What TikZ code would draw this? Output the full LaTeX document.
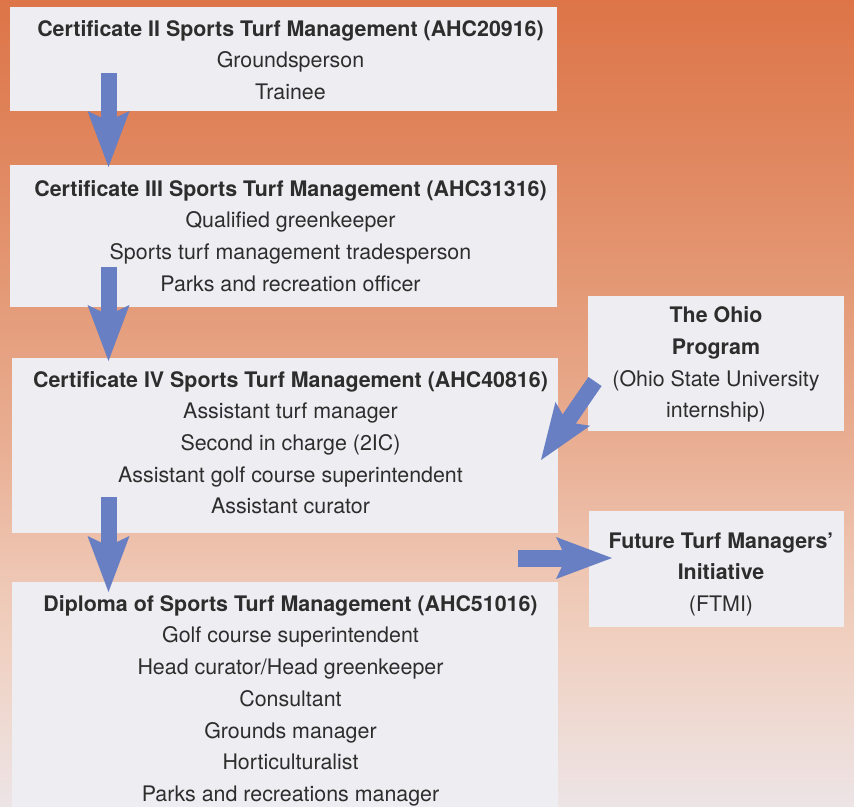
\documentclass[tikz,border=0pt]{standalone}
\usepackage{fontspec}
\setmainfont{TeX Gyre Heros}
\usetikzlibrary{arrows.meta}

\definecolor{arrowblue}{RGB}{104,127,195}
\definecolor{boxfill}{RGB}{238,238,242}
\definecolor{ink}{RGB}{45,45,45}
\definecolor{bgA}{RGB}{221,117,72}
\definecolor{bgB}{RGB}{224,134,94}
\definecolor{bgC}{RGB}{228,155,120}
\definecolor{bgD}{RGB}{233,175,148}
\definecolor{bgE}{RGB}{238,196,176}
\definecolor{bgF}{RGB}{240,209,194}
\definecolor{bgG}{RGB}{237,228,230}

% warm backdrop, deep orange at the top fading to pale pink at the bottom
\pgfdeclareverticalshading{backdrop}{100bp}{%
  color(0bp)=(bgG); color(25bp)=(bgG); color(34.7bp)=(bgF);
  color(40.3bp)=(bgE); color(47.1bp)=(bgD); color(56.4bp)=(bgC);
  color(65.7bp)=(bgB); color(75bp)=(bgA); color(100bp)=(bgA)}

\begin{document}
\begin{tikzpicture}[x=1pt,y=-1pt,
  card/.style={rectangle, fill=boxfill, inner sep=0pt},
  lines/.style={anchor=north, inner sep=0pt, align=center, text=ink,
    font=\fontsize{21.4}{31.7}\selectfont},
  flow/.style={draw=arrowblue, line width=16pt,
    -{Stealth[length=56pt,width=42pt,inset=10pt,line width=0pt]}}]

\useasboundingbox (0,0) rectangle (854,806);
\clip (0,0) rectangle (854,806);
\shade[shading=backdrop] (0,0) rectangle (854,806);

% qualification boxes
\node[card, minimum width=547pt, minimum height=104pt] (cert2) at (283.5,59) {};
\node[card, minimum width=547pt, minimum height=142pt] (cert3) at (283.5,236) {};
\node[card, minimum width=546pt, minimum height=175pt] (cert4) at (285,445.5) {};
\node[card, minimum width=546pt, minimum height=248pt] (dipl) at (285,706) {};
\node[card, minimum width=256pt, minimum height=135pt] (ohio) at (716,363.5) {};
\node[card, minimum width=255pt, minimum height=116pt] (ftmi) at (716.5,569) {};

% box texts
\node[lines] (cert2txt) at (290.5,13.8) {\strut\textbf{Certificate II Sports Turf Management (AHC20916)}\\
  \strut Groundsperson\\ \strut Trainee};
\node[lines] (cert3txt) at (290.5,173.8) {\strut\textbf{Certificate III Sports Turf Management (AHC31316)}\\
  \strut Qualified greenkeeper\\ \strut Sports turf management tradesperson\\
  \strut Parks and recreation officer};
\node[lines] (cert4txt) at (290.5,364.8) {\strut\textbf{Certificate IV Sports Turf Management (AHC40816)}\\
  \strut Assistant turf manager\\ \strut Second in charge (2IC)\\
  \strut Assistant golf course superintendent\\ \strut Assistant curator};
\node[lines] (dipltxt) at (290.5,588.8) {\strut\textbf{Diploma of Sports Turf Management (AHC51016)}\\
  \strut Golf course superintendent\\ \strut Head curator/Head greenkeeper\\
  \strut Consultant\\ \strut Grounds manager\\ \strut Horticulturalist\\
  \strut Parks and recreations manager};
\node[lines] (ohiotxt) at (716,300.5) {\strut\textbf{The Ohio}\\ \strut\textbf{Program}\\
  \strut(Ohio State University\\ \strut internship)};
\node[lines] (ftmitxt) at (721,525.8) {\strut\textbf{Future Turf Managers'}\\
  \strut\textbf{Initiative}\\ \strut(FTMI)};

% arrow end points
\coordinate (f1a) at (108.5,73);  \coordinate (f1b) at (108.5,167);
\coordinate (f2a) at (108.5,267); \coordinate (f2b) at (108.5,361);
\coordinate (f3a) at (108.5,497); \coordinate (f3b) at (108.5,592);
\coordinate (f4a) at (595,381.5); \coordinate (f4b) at (541,460);
\coordinate (f5a) at (518,558);   \coordinate (f5b) at (612,558);

\draw[flow] (f1a) -- (f1b);
\draw[flow] (f2a) -- (f2b);
\draw[flow] (f3a) -- (f3b);
\draw[flow] (f4a) -- (f4b);
\draw[flow, line width=17pt] (f5a) -- (f5b);
\end{tikzpicture}
\end{document}
